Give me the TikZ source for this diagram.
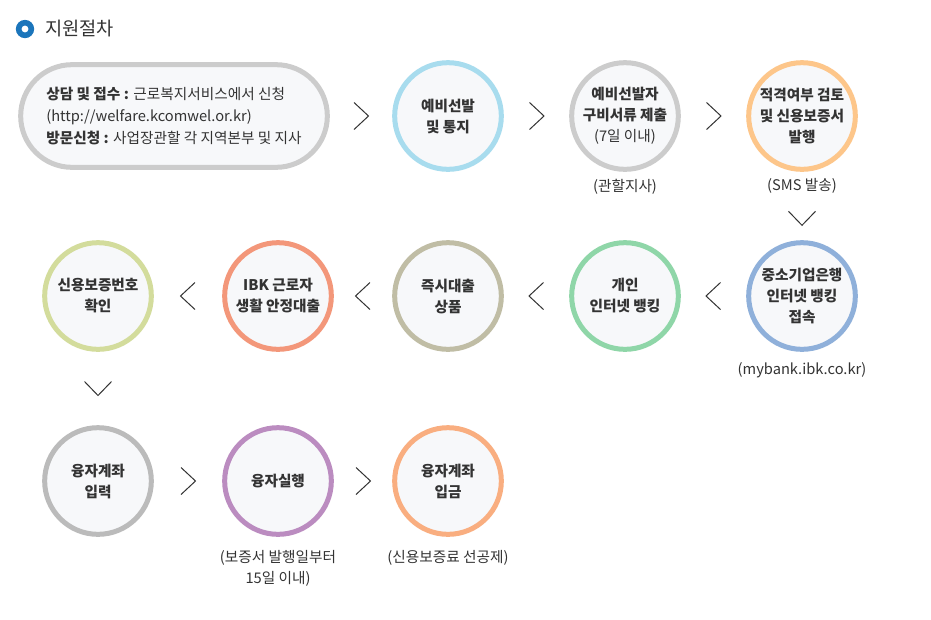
\documentclass[tikz,border=0pt]{standalone}
\usepackage{fontspec}
\setmainfont{Noto Sans CJK KR}
\usetikzlibrary{positioning,calc}

\definecolor{ink}{HTML}{333333}
\definecolor{panel}{HTML}{F7F8FA}
\definecolor{pillgray}{HTML}{CCCCCC}
\definecolor{iconblue}{HTML}{1B75BB}
\definecolor{skyblue}{HTML}{A8DCEE}
\definecolor{docgray}{HTML}{CCCCCC}
\definecolor{peach}{HTML}{FDC68A}
\definecolor{bankblue}{HTML}{8FB0DA}
\definecolor{mint}{HTML}{8FD6A8}
\definecolor{khaki}{HTML}{C0BDA5}
\definecolor{salmon}{HTML}{F3977A}
\definecolor{lime}{HTML}{D3DC9C}
\definecolor{ashgray}{HTML}{BBBBBB}
\definecolor{lilac}{HTML}{BB8CC0}
\definecolor{apricot}{HTML}{F9AE80}

\begin{document}
\begin{tikzpicture}[x=0.75pt,y=-0.75pt,
  stepcirc/.style={circle,draw=#1,line width=3.75pt,fill=panel,minimum size=80pt,
    inner sep=0pt,align=center,text=ink,font=\bfseries\fontsize{11}{15.75}\selectfont},
  note/.style={align=center,text=ink,inner sep=1pt,font=\fontsize{11}{15.75}\selectfont},
  chev/.style={draw=ink,line width=0.75pt}]
  \useasboundingbox[fill=white] (0,0) rectangle (931,619);

  % title
  \draw[iconblue,line width=4.2pt,fill=white] (25,29) circle[radius=6.3];
  \node[anchor=west,text=ink,inner sep=0pt,font=\fontsize{14}{16}\selectfont] (title) at (45,29) {지원절차};

  % row 1
  \node[draw=pillgray,line width=3.75pt,fill=panel,rounded corners=38.5pt,
    minimum width=230pt,minimum height=77pt,align=left,text=ink,
    font=\fontsize{11}{16.5}\selectfont] (apply) at (174,116)
    {{\bfseries 상담 및 접수 :} 근로복지서비스에서 신청\\
     (http://welfare.kcomwel.or.kr)\\
     {\bfseries 방문신청 :} 사업장관할 각 지역본부 및 지사};
  \node[stepcirc=skyblue] (notice) at (448,116) {예비선발\\및 통지};
  \node[stepcirc=docgray] (docs) at (625,116) {예비선발자\\구비서류 제출\\{\mdseries (7일 이내)}};
  \node[stepcirc=peach] (review) at (802,116) {적격여부 검토\\및 신용보증서\\발행};
  \node[note,below=4pt of docs] (docsnote) {(관할지사)};
  \node[note,below=4pt of review] (reviewnote) {(SMS 발송)};

  % row 2
  \node[stepcirc=bankblue] (connect) at (802,296) {중소기업은행\\인터넷 뱅킹\\접속};
  \node[stepcirc=mint] (netbank) at (625,296) {개인\\인터넷 뱅킹};
  \node[stepcirc=khaki] (product) at (448,296) {즉시대출\\상품};
  \node[stepcirc=salmon] (loan) at (278,296) {IBK 근로자\\생활 안정대출};
  \node[stepcirc=lime] (guarantee) at (98,296) {신용보증번호\\확인};
  \node[note,below=7pt of connect] (connectnote) {(mybank.ibk.co.kr)};

  % row 3
  \node[stepcirc=ashgray] (account) at (98,481) {융자계좌\\입력};
  \node[stepcirc=lilac] (execute) at (278,481) {융자실행};
  \node[stepcirc=apricot] (deposit) at (448,481) {융자계좌\\입금};
  \node[note,below=9pt of execute] (executenote) {(보증서 발행일부터\\15일 이내)};
  \node[note,below=9pt of deposit] (depositnote) {(신용보증료 선공제)};

  % chevrons
  \foreach \a/\b in {apply/notice,notice/docs,docs/review,account/execute,execute/deposit}{
    \coordinate (m) at ($(\a.east)!0.5!(\b.west)$);
    \draw[chev] ($(m)+(-7,-13.5)$) -- ($(m)+(7.5,0)$) -- ($(m)+(-7,13.5)$);
  }
  \foreach \a/\b in {connect/netbank,netbank/product,product/loan,loan/guarantee}{
    \coordinate (m) at ($(\a.west)!0.5!(\b.east)$);
    \draw[chev] ($(m)+(7,-13.5)$) -- ($(m)+(-7.5,0)$) -- ($(m)+(7,13.5)$);
  }
  \coordinate (d1) at ($(review.south)!0.68!(connect.north)$);
  \coordinate (d2) at ($(guarantee.south)!0.5!(account.north)$);
  \foreach \m in {d1,d2}{
    \draw[chev] ($(\m)+(-13.5,-7)$) -- ($(\m)+(0,7)$) -- ($(\m)+(13.5,-7)$);
  }
\end{tikzpicture}
\end{document}
